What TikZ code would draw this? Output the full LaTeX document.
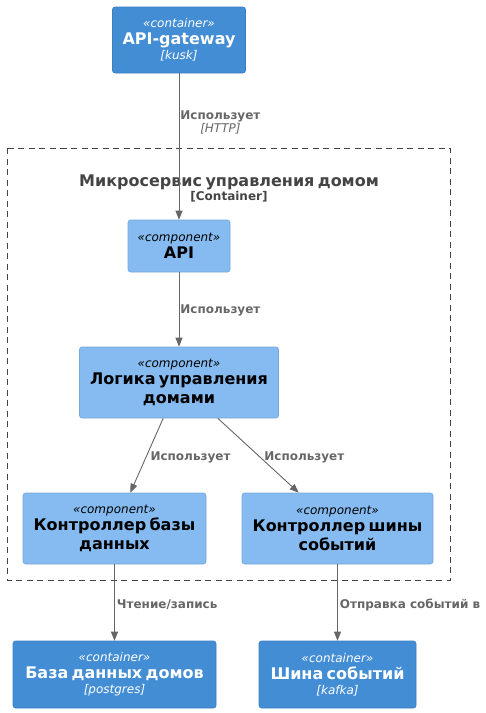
\documentclass[tikz,border=0pt]{standalone}
\usepackage{fontspec}
\setmainfont{DejaVu Sans}
\usetikzlibrary{arrows.meta}

\definecolor{ctnfill}{HTML}{438DD5}
\definecolor{ctnline}{HTML}{3C7FC0}
\definecolor{cmpfill}{HTML}{85BBF0}
\definecolor{cmpline}{HTML}{78A8D8}
\definecolor{relcol}{HTML}{666666}
\definecolor{bndcol}{HTML}{444444}

% text parts of an element box
\newcommand\stereo[1]{{\fontsize{12}{15}\selectfont\itshape «#1»\par}\vskip-2pt}
\newcommand\elname[1]{{\fontsize{16}{19}\selectfont\bfseries #1\par}}
\newcommand\techn[1]{{\fontsize{12}{15}\selectfont\itshape [#1]\par}}

\tikzset{
  elbox/.style={rectangle, rounded corners=2.5pt, inner sep=0pt, align=center, line width=0.6pt},
  ctn/.style={elbox, fill=ctnfill, draw=ctnline, text=white},
  cmp/.style={elbox, fill=cmpfill, draw=cmpline, text=black},
  rel/.style={draw=relcol, line width=0.9pt, -{Triangle[length=9pt,width=7pt]}},
  lbl/.style={text=relcol, font=\fontsize{12}{13}\selectfont\bfseries, anchor=west, inner sep=0pt},
  bnd/.style={draw=bndcol, line width=0.9pt, dash pattern=on 6pt off 4.5pt},
}

\begin{document}
\begin{tikzpicture}[x=1pt, y=-1pt]
  \useasboundingbox (0,0) rectangle (486,713);

  % container boundary
  \draw[bnd] (7,148) rectangle (450,580);
  \node[text=bndcol, inner sep=0pt, text width=420pt, align=center] (bndtitle) at (229,188)
    {{\fontsize{16}{19}\selectfont\bfseries Микросервис управления домом\par}
     {\fontsize{12}{14}\selectfont\bfseries [Container]\par}};

  % elements
  \node[ctn, minimum width=133pt, minimum height=66pt, text width=125pt] (gw) at (179,40)
    {\stereo{container}\elname{API-gateway}\techn{kusk}};
  \node[cmp, minimum width=102pt, minimum height=52pt, text width=96pt] (api) at (179,246)
    {\stereo{component}\elname{API}};
  \node[cmp, minimum width=199pt, minimum height=71pt, text width=190pt] (logic) at (179,382.5)
    {\stereo{component}\elname{Логика управления\\домами}};
  \node[cmp, minimum width=183pt, minimum height=71pt, text width=175pt] (cdb) at (114.5,528.5)
    {\stereo{component}\elname{Контроллер базы\\данных}};
  \node[cmp, minimum width=191pt, minimum height=71pt, text width=183pt] (cbus) at (337.5,528.5)
    {\stereo{component}\elname{Контроллер шины\\событий}};
  \node[ctn, minimum width=203pt, minimum height=67pt, text width=195pt] (db) at (114.5,674.5)
    {\stereo{container}\elname{База данных домов}\techn{postgres}};
  \node[ctn, minimum width=157pt, minimum height=67pt, text width=150pt] (bus) at (337.5,674.5)
    {\stereo{container}\elname{Шина событий}\techn{kafka}};

  % relationships
  \draw[rel] (gw) -- node[lbl, pos=0.34, xshift=1pt]
    {\begin{tabular}{@{}c@{}}Использует\\{\mdseries\itshape [HTTP]}\end{tabular}} (api);
  \draw[rel] (api) -- node[lbl, pos=0.51, xshift=1pt] {Использует} (logic);
  \draw[rel] (logic) -- node[lbl, pos=0.52, xshift=4pt] {Использует} (cdb);
  \draw[rel] (logic) -- node[lbl, pos=0.52, xshift=4pt] {Использует} (cbus);
  \draw[rel] (cdb) -- node[lbl, pos=0.53, xshift=2pt] {Чтение/запись} (db);
  \draw[rel] (cbus) -- node[lbl, pos=0.53, xshift=2pt] {Отправка событий в} (bus);
\end{tikzpicture}
\end{document}
